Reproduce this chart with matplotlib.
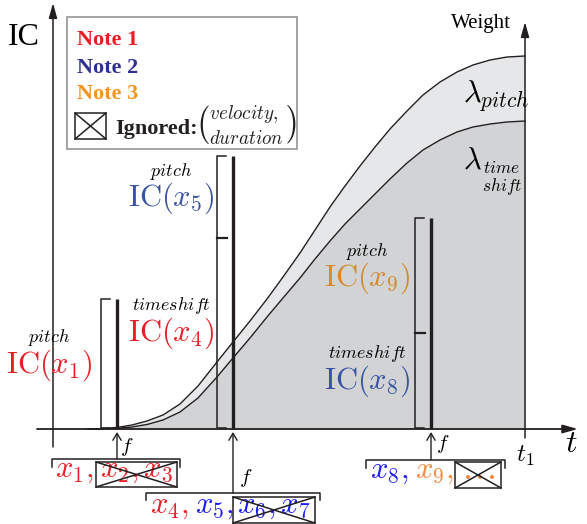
import matplotlib
matplotlib.use('Agg')
import matplotlib.pyplot as plt
from matplotlib.patches import Rectangle

plt.rcParams['mathtext.fontset'] = 'cm'
plt.rcParams['font.family'] = ['Liberation Serif', 'DejaVu Serif']

# time axis (t1 = end of window) and weight curves
t1 = 472
curve_t = [35, 47, 64, 79, 94, 110, 127, 145, 164, 180, 197, 214, 230, 247,
           262, 277, 292, 307, 322, 337, 354, 370, 387, 404, 420, 437, 454, 472]
w_pitch = [0, 0.3, 1.5, 4, 8, 14, 25, 43, 67, 87, 108, 130, 152, 176,
           199, 222, 243, 263, 282, 300, 318, 334, 347, 357, 364, 369, 372, 373]
w_timeshift = [0, 0.1, 0.7, 2, 4.5, 9, 17, 31, 52, 71, 91, 112, 131, 151,
               170, 188, 205, 220, 235, 250, 266, 279, 289, 297, 302, 305, 307, 308]

# note groups: time of the merged event, IC contributions (stacked)
event_t = [64, 180, 378]
ic_timeshift = [0, 191, 96]
ic_pitch = [130, 82, 115]

RED = '#ec1c24'
NAVY = '#2e3192'
ORANGE = '#f7941d'
STEEL = '#3953a4'
GOLD = '#d4892b'
BLUE = '#1a1aff'
LORANGE = '#f5883a'
INK = '#231f20'

fig = plt.figure(figsize=(5.87, 5.24), dpi=100)
ax = fig.add_axes([0, 0, 1, 1])
ax.set_xlim(-53, 534)
ax.set_ylim(-95, 429)
ax.axis('off')

# weight areas
ax.fill_between(curve_t, w_timeshift, w_pitch, color='#e6e7e8', lw=0, zorder=1)
ax.fill_between(curve_t, 0, w_timeshift, color='#d1d3d4', lw=0, zorder=1)
ax.plot(curve_t, w_pitch, color=INK, lw=1.0, zorder=2)
ax.plot(curve_t, w_timeshift, color=INK, lw=1.0, zorder=2)

# axes with arrows
head = '-|>,head_length=0.9,head_width=0.25'
ax.annotate('', xy=(525, 0), xytext=(-16, 0),
            arrowprops=dict(arrowstyle=head, color=INK, lw=1.3, shrinkA=0, shrinkB=0), zorder=4)
ax.annotate('', xy=(0, 426), xytext=(0, -18),
            arrowprops=dict(arrowstyle=head, color=INK, lw=1.1, shrinkA=0, shrinkB=0), zorder=4)
ax.annotate('', xy=(t1, 407), xytext=(t1, -9),
            arrowprops=dict(arrowstyle=head, color=INK, lw=1.1, shrinkA=0, shrinkB=0), zorder=4)

# IC bars with brackets
tick = 9
for t, ts, p in zip(event_t, ic_timeshift, ic_pitch):
    top = ts + p
    bx = t - 16
    ax.plot([t, t], [0, top], color=INK, lw=2.4, solid_capstyle='butt', zorder=3)
    ax.plot([bx + tick, bx, bx, bx + tick], [1, 1, top, top], color=INK, lw=1.1, zorder=3)
    if ts > 0:
        ax.plot([bx, bx + tick + 1], [ts, ts], color=INK, lw=1.6, zorder=3)


# labels on the bars
def ic_label(x, y, kind, name, color):
    ax.text(x, y + 27, '$' + kind + '$', fontsize=13, ha='center', va='center', zorder=5)
    ax.text(x, y, r'$\mathrm{IC}(' + name + ')$', fontsize=22, color=color,
            ha='center', va='center', zorder=5)


ic_label(-4, 64, 'pitch', 'x_1', RED)
ic_label(118, 96, 'timeshift', 'x_4', RED)
ic_label(118, 231, 'pitch', 'x_5', STEEL)
ic_label(314, 151, 'pitch', 'x_9', GOLD)
ic_label(314, 48, 'timeshift', 'x_8', STEEL)

# weight labels
ax.text(410, 327, r'$\lambda_{pitch}$', fontsize=22, ha='left', va='baseline', zorder=5)
ax.text(410, 260, r'$\lambda$', fontsize=22, ha='left', va='baseline', zorder=5)
ax.text(430, 256, r'$time$', fontsize=12.5, ha='left', va='baseline', zorder=5)
ax.text(429, 238, r'$shift$', fontsize=12.5, ha='left', va='baseline', zorder=5)

ax.text(-45, 384, 'IC', fontsize=23, ha='left', va='baseline')
ax.text(428, 401, 'Weight', fontsize=15, ha='center', va='baseline')
ax.text(518, -16, '$t$', fontsize=23, ha='center', va='center')
ax.text(472, -27, '$t_1$', fontsize=18, ha='center', va='center')


def crossed_box(x0, y0, x1, y1, lw=1.1, z=6):
    ax.add_patch(Rectangle((x0, y0), x1 - x0, y1 - y0, fill=False, ec=INK, lw=lw, zorder=z))
    ax.plot([x0, x1], [y0, y1], color=INK, lw=lw, zorder=z)
    ax.plot([x0, x1], [y1, y0], color=INK, lw=lw, zorder=z)


# grouping brackets and f arrows below the time axis
groups = [(-1, 127, -30, -38), (93, 267, -64, -71), (313, 452, -31, -39)]
f_pos = [(67, -18), (186, -49), (383, -15)]
for t, (xa, xb, yb, yt), (fx, fy) in zip(event_t, groups, f_pos):
    ax.plot([xa, xa, xb, xb], [yt, yb, yb, yt], color=INK, lw=1.1)
    ax.annotate('', xy=(t, -3), xytext=(t, yb),
                arrowprops=dict(arrowstyle='->,head_length=0.5,head_width=0.3',
                                color=INK, lw=1.0, shrinkA=0, shrinkB=0))
    ax.text(fx, fy, '$f$', fontsize=15, ha='left', va='center')

fs = 22
ax.text(2, -48, '$x_1,$', fontsize=fs, color=RED, ha='left', va='baseline')
ax.text(47, -48, '$x_2, x_3$', fontsize=fs, color=RED, ha='left', va='baseline', zorder=5)
crossed_box(43, -58, 124, -33)

ax.text(97, -84, '$x_4,$', fontsize=fs, color=RED, ha='left', va='baseline')
ax.text(142, -84, '$x_5,$', fontsize=fs, color=BLUE, ha='left', va='baseline')
ax.text(184, -84, '$x_6, x_7$', fontsize=fs, color=BLUE, ha='left', va='baseline', zorder=5)
crossed_box(180, -94, 262, -68)

ax.text(317, -49, '$x_8,$', fontsize=fs, color=BLUE, ha='left', va='baseline')
ax.text(362, -49, '$x_9,$', fontsize=fs, color=LORANGE, ha='left', va='baseline')
ax.text(425, -50, r'$\ldots$', fontsize=26, color=LORANGE, ha='center',
        va='baseline', zorder=5)
crossed_box(402, -59, 448, -33)

# legend box
ax.add_patch(Rectangle((14, 280), 230, 132, fill=True, fc='white', ec='#9d9d9d', lw=1.3, zorder=7))
ax.text(24, 384, 'Note 1', fontsize=16, fontweight='bold', color=RED, ha='left', va='baseline', zorder=8)
ax.text(24, 356, 'Note 2', fontsize=16, fontweight='bold', color=NAVY, ha='left', va='baseline', zorder=8)
ax.text(24, 330, 'Note 3', fontsize=16, fontweight='bold', color=ORANGE, ha='left', va='baseline', zorder=8)
crossed_box(22, 290, 53, 316, z=8)
ax.text(62, 295, 'Ignored:', fontsize=16, fontweight='bold', color=INK, ha='left', va='baseline', zorder=8)
ax.text(193, 304, r'$\binom{velocity,}{duration}$', fontsize=19.5, color=INK,
        ha='center', va='center', zorder=8)

fig.savefig('out.png', dpi=100)
